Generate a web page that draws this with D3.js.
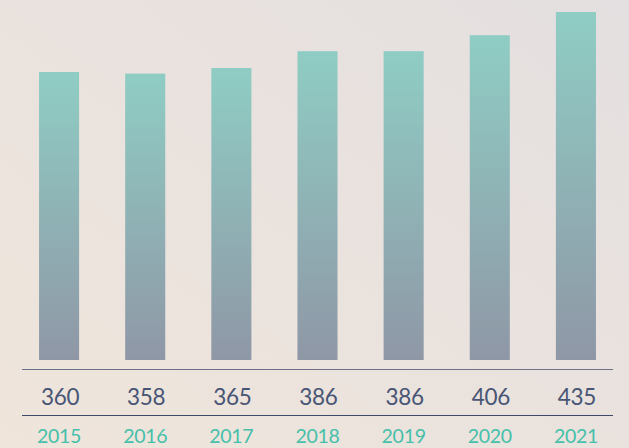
<!DOCTYPE html>
<html>
<head>
<meta charset="utf-8">
<script src="https://cdn.jsdelivr.net/npm/d3@7"></script>
<style>
  html, body { margin: 0; padding: 0; }
  body { width: 629px; height: 448px; overflow: hidden; }
</style>
</head>
<body>
<div id="chart"></div>
<script>
// Daten
const years = ["2015", "2016", "2017", "2018", "2019", "2020", "2021"];
const values = [360, 358, 365, 386, 386, 406, 435];

const W = 629, H = 448;

const svg = d3.select("#chart")
    .append("svg")
    .attr("width", W)
    .attr("height", H);

const defs = svg.append("defs");

// Hintergrund-Verlauf
const bg = defs.append("linearGradient")
    .attr("id", "bg")
    .attr("x1", "0%").attr("y1", "100%")
    .attr("x2", "100%").attr("y2", "0%");
bg.append("stop").attr("offset", "0%").attr("stop-color", "#efe5db");
bg.append("stop").attr("offset", "100%").attr("stop-color", "#e4dfe0");

// Balken-Verlauf
const barGrad = defs.append("linearGradient")
    .attr("id", "barGrad")
    .attr("x1", 0).attr("y1", 0)
    .attr("x2", 0).attr("y2", 1);
barGrad.append("stop").attr("offset", "0%").attr("stop-color", "#8fcdc4");
barGrad.append("stop").attr("offset", "100%").attr("stop-color", "#8f97a6");

svg.append("rect")
    .attr("width", W).attr("height", H)
    .attr("fill", "url(#bg)");

// Skalen
const x = d3.scaleBand()
    .domain(years)
    .range([16, 619])
    .paddingInner(0.535)
    .paddingOuter(0.2675);

const y = d3.scaleLinear()
    .domain([0, 450])
    .range([360, 0]);

// Balken
svg.append("g")
    .selectAll("rect")
    .data(years)
    .join("rect")
    .attr("x", d => x(d))
    .attr("y", (d, i) => y(values[i]))
    .attr("width", x.bandwidth())
    .attr("height", (d, i) => y(0) - y(values[i]))
    .attr("fill", "url(#barGrad)");

// Tabellenlinien
svg.append("line")
    .attr("x1", 22).attr("x2", 613)
    .attr("y1", 369.5).attr("y2", 369.5)
    .attr("stroke", "#6b7189").attr("stroke-width", 1);

svg.append("line")
    .attr("x1", 22).attr("x2", 613)
    .attr("y1", 415.5).attr("y2", 415.5)
    .attr("stroke", "#3f4a6a").attr("stroke-width", 1.2);

// Werte
svg.append("g")
    .selectAll("text")
    .data(values)
    .join("text")
    .attr("x", (d, i) => x(years[i]) + x.bandwidth() / 2 + 1)
    .attr("y", 405)
    .attr("text-anchor", "middle")
    .attr("font-family", "Lato, sans-serif")
    .attr("font-size", 22.5)
    .attr("letter-spacing", -0.3)
    .attr("fill", "#485575")
    .text(d => d);

// Jahre
svg.append("g")
    .selectAll("text")
    .data(years)
    .join("text")
    .attr("x", d => x(d) + x.bandwidth() / 2)
    .attr("y", 443)
    .attr("text-anchor", "middle")
    .attr("font-family", "Lato, sans-serif")
    .attr("font-size", 19.5)
    .attr("letter-spacing", -0.3)
    .attr("fill", "#45c0aa")
    .text(d => d);
</script>
</body>
</html>
